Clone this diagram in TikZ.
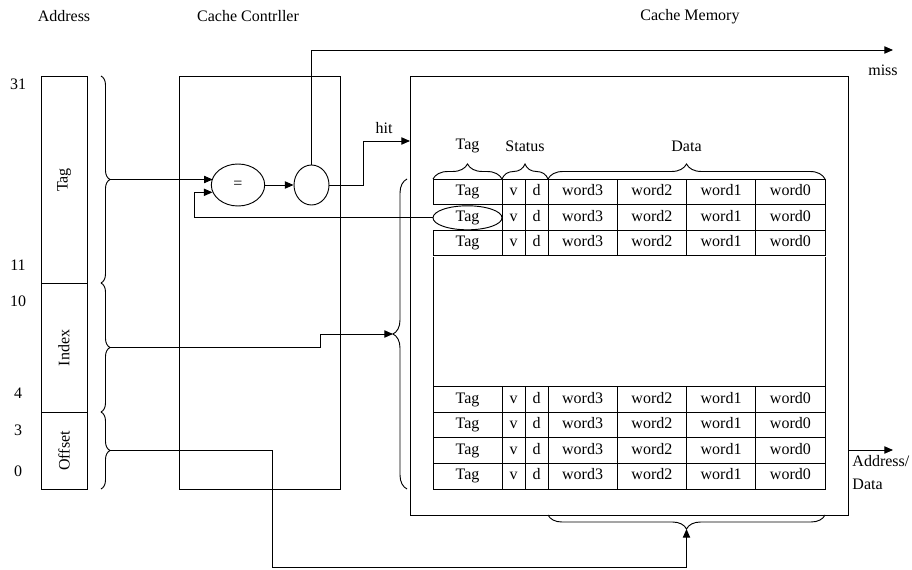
\documentclass[tikz,border=0pt]{standalone}
\usepackage{fontspec}
\setmainfont{Liberation Serif}
\usetikzlibrary{arrows.meta,calc,positioning,shapes.geometric,decorations.pathreplacing}
\tikzset{
  curly/.style={decorate,decoration={brace,amplitude=#1}},
  curly/.default=6.75pt,
  cell/.style={draw,inner sep=0pt,minimum height=19.2pt,text height=8pt,text depth=2.5pt},
  tagcell/.style={cell,minimum width=51.75pt},
  bitcell/.style={cell,minimum width=17.25pt},
  wordcell/.style={cell,minimum width=51.94pt},
  oval/.style={draw,ellipse,inner sep=0pt,fill=white}
}

\begin{document}
\begin{tikzpicture}[x=0.75pt,y=-0.75pt,line width=0.7pt,
    font=\fontsize{12}{14}\selectfont,>={Triangle[length=6.5pt,width=5.5pt]}]
    \useasboundingbox (0,0) rectangle (912,570);
    % titles
    \node (addrtitle) at (64,16) {Address};
    \node (ctrltitle) at (248,16) {Cache Contrller};
    \node (memtitle) at (690,17) {Cache Memory};

    % address word
    \draw (41,76) rectangle (87,489);
    \draw (41,283) -- (87,283);
    \draw (41,412) -- (87,412);
    \node[rotate=90] (tagfield) at (64,180) {Tag};
    \node[rotate=90] (idxfield) at (64,348) {Index};
    \node[rotate=90] (offfield) at (64,451) {Offset};
    \foreach \n/\y in {31/84,11/265,10/301,4/393,3/430,0/471}
      \node (bit\n) at (18,\y) {\n};
    \draw[curly] (101,76) -- (101,283);
    \draw[curly] (101,283) -- (101,412);
    \draw[curly] (101,412) -- (101,489);
    \coordinate (tagtip) at (110,179.5);
    \coordinate (idxtip) at (110,347.5);
    \coordinate (offtip) at (110,450.5);

    % controller
    \draw (179,76) rectangle (340,489);
    \node[oval,minimum width=40pt,minimum height=31.5pt] (eq) at (238,185) {=};
    \node[oval,minimum width=26.25pt,minimum height=30pt] (gate) at (311.5,185) {};

    % memory
    \draw (410,76) rectangle (848,515);
    \draw[curly=10.5pt] (407,489) -- (407,179);
    \coordinate (memtip) at (393,334);
    \foreach \lbl/\a/\b in {Tag/433/502,Status/502/548,Data/548/825} {
      \draw[curly=11.25pt] (\a,179) -- (\b,179);
      \node (hd\lbl) at ({(\a+\b)/2},146) {\lbl};
    }
    \draw (433,256.6) -- (433,386.6);
    \draw (825,256.6) -- (825,386.6);
    \foreach \r/\y in {1/191.8,2/217.4,3/243.0,4/399.4,5/425.0,6/450.6,7/476.2} {
      \ifnum\r=2\else
        \node[tagcell] (tag\r) at (467.5,\y) {Tag};
      \fi
      \node[bitcell] (v\r) at (513.5,\y) {v};
      \node[bitcell] (d\r) at (536.5,\y) {d};
      \node[wordcell] (wthree\r) at (582.6,\y) {word3};
      \node[wordcell] (wtwo\r) at (651.9,\y) {word2};
      \node[wordcell] (wone\r) at (721.1,\y) {word1};
      \node[wordcell] (wzero\r) at (790.4,\y) {word0};
    }
    \node[oval,minimum width=51.75pt,minimum height=18pt,text height=8pt,text depth=2.5pt]
      (tagsel) at (467.5,217.8) {Tag};
    \draw[curly=10.5pt] (825,515) -- (548,515);
    \coordinate (datatip) at (686.5,529);

    % connections
    \draw[->] (tagtip) -- (tagtip -| eq.163);
    \draw[->] (tagsel.west) -| ($(eq.196)+(-18,0)$) -- (eq.196);
    \draw[->] (eq.east) -- (gate.west);
    \coordinate (hitin) at (410,141);
    \draw[->] (gate.east) -- ++(34,0) |- (hitin);
    \node (hitlbl) at (384,128) {hit};
    \coordinate (missout) at (893,50);
    \draw[->] (gate.north) |- (missout);
    \node (misslbl) at (883,70) {miss};
    \draw[->] (idxtip) -| ($(memtip)+(-73,0)$) -- (memtip);
    \draw[->] (offtip) -- ++(162,0) |- ($(datatip)+(0,38)$) -- (datatip);
    \coordinate (memout) at (848,450);
    \draw[->] (memout) -- ++(45,0);
    \node[anchor=north west,align=left,inner sep=0pt,
      font=\fontsize{12}{17}\selectfont] (addrdata) at (852,455) {Address/\\Data};
\end{tikzpicture}
\end{document}
